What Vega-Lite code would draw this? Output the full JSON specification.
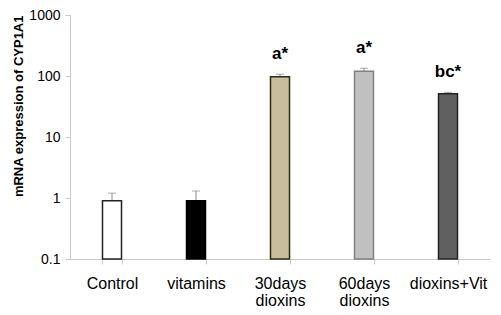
{
  "$schema": "https://vega.github.io/schema/vega-lite/v6.json",
  "width": 420,
  "height": 244,
  "autosize": "none",
  "padding": {"left": 70, "top": 15, "right": 11, "bottom": 56},
  "background": "white",
  "config": {
    "font": "Liberation Sans",
    "view": {"stroke": null}
  },
  "data": {
    "values": [
      {"group": "Control", "value": 0.9, "err": 1.2, "label": "", "fill": "#ffffff", "stroke": "#222222"},
      {"group": "vitamins", "value": 0.9, "err": 1.3, "label": "", "fill": "#000000", "stroke": "#000000"},
      {"group": "30days dioxins", "value": 97, "err": 107, "label": "a*", "fill": "#c8bf98", "stroke": "#2a2a1a"},
      {"group": "60days dioxins", "value": 120, "err": 134, "label": "a*", "fill": "#c0c0c0", "stroke": "#808080"},
      {"group": "dioxins+Vit", "value": 51, "err": 54, "label": "bc*", "fill": "#606060", "stroke": "#222222"}
    ]
  },
  "encoding": {
    "x": {
      "field": "group",
      "type": "nominal",
      "sort": null,
      "scale": {"paddingInner": 0.77, "paddingOuter": 0.385},
      "axis": {
        "title": null,
        "labelAngle": 0,
        "labelFontSize": 16,
        "labelColor": "#000000",
        "labelPadding": 11,
        "labelLineHeight": 17,
        "labelExpr": "split(datum.label, ' ')",
        "tickBand": "extent",
        "tickSize": 5,
        "tickColor": "#c8c8c8",
        "domainColor": "#c8c8c8",
        "grid": false
      }
    }
  },
  "layer": [
    {
      "mark": {"type": "rule", "color": "#888888", "strokeWidth": 1},
      "encoding": {
        "y": {"field": "value", "type": "quantitative"},
        "y2": {"field": "err"}
      }
    },
    {
      "mark": {"type": "tick", "color": "#888888", "size": 8, "thickness": 1, "orient": "horizontal"},
      "encoding": {
        "y": {"field": "err", "type": "quantitative"}
      }
    },
    {
      "mark": {"type": "bar", "width": 19, "strokeWidth": 1.5},
      "encoding": {
        "y": {
          "field": "value",
          "type": "quantitative",
          "scale": {"type": "log", "domain": [0.1, 1000], "nice": false},
          "axis": {
            "title": "mRNA expression of CYP1A1",
            "titleFontSize": 13,
            "titleFontWeight": "bold",
            "titleColor": "#000000",
            "titleAnchor": "end",
            "titlePadding": 3,
            "values": [0.1, 1, 10, 100, 1000],
            "format": "~g",
            "labelFontSize": 14,
            "labelColor": "#000000",
            "labelPadding": 5,
            "tickSize": 5,
            "tickColor": "#c8c8c8",
            "domainColor": "#c8c8c8",
            "grid": false
          }
        },
        "y2": {"datum": 0.1},
        "fill": {"field": "fill", "type": "nominal", "scale": null},
        "stroke": {"field": "stroke", "type": "nominal", "scale": null}
      }
    },
    {
      "mark": {"type": "text", "fontSize": 17, "fontWeight": "bold", "baseline": "alphabetic", "dy": -15, "color": "#000000"},
      "encoding": {
        "y": {"field": "err", "type": "quantitative"},
        "text": {"field": "label"}
      }
    }
  ]
}
